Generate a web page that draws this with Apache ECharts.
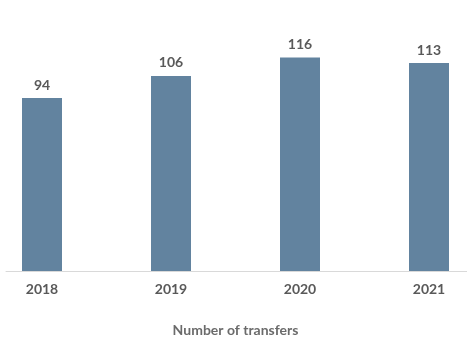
<!DOCTYPE html>
<html>
<head>
<meta charset="utf-8">
<script src="https://cdn.jsdelivr.net/npm/echarts@6/dist/echarts.min.js"></script>
<style>html,body{margin:0;padding:0;background:#fff}#c{width:467px;height:338px}</style>
</head>
<body>
<div id="c"></div>
<script>
const categories = ['2018', '2019', '2020', '2021'];
const transfers = [94, 106, 116, 113];
const axisName = 'Number of transfers';

const chart = echarts.init(document.getElementById('c'), null, {renderer: 'canvas'});
chart.setOption({
  animation: false,
  textStyle: {fontFamily: 'Lato'},
  grid: [
    {left: -22.5, width: 516, top: 13.4, bottom: 67, containLabel: false, outerBoundsMode: 'none'},
    {left: 6, right: 0, bottom: 67, height: 0, outerBoundsMode: 'none'}
  ],
  xAxis: [
    {
      type: 'category', data: categories, gridIndex: 0,
      axisLine: {show: false}, axisTick: {show: false},
      axisLabel: {color: '#595959', fontSize: 14, fontWeight: 'bold', fontFamily: 'Lato', margin: 11},
      name: axisName, nameLocation: 'middle', nameGap: 52,
      nameTextStyle: {color: '#6b6b6b', fontSize: 14, fontWeight: 'bold', fontFamily: 'Lato'}
    },
    {
      type: 'value', gridIndex: 1, min: 0, max: 1,
      axisLine: {show: true, lineStyle: {color: '#d9d9d9', width: 1}},
      axisTick: {show: false}, axisLabel: {show: false}, splitLine: {show: false}
    }
  ],
  yAxis: [
    {type: 'value', min: 0, max: 140, gridIndex: 0, show: false, splitLine: {show: false}},
    {type: 'value', gridIndex: 1, show: false}
  ],
  series: [{
    type: 'bar', data: transfers, barWidth: 40,
    itemStyle: {color: '#62839f'},
    label: {show: true, position: 'top', distance: 6, color: '#595959', fontSize: 14, fontWeight: 'bold', fontFamily: 'Lato'}
  }]
});
</script>
</body>
</html>
